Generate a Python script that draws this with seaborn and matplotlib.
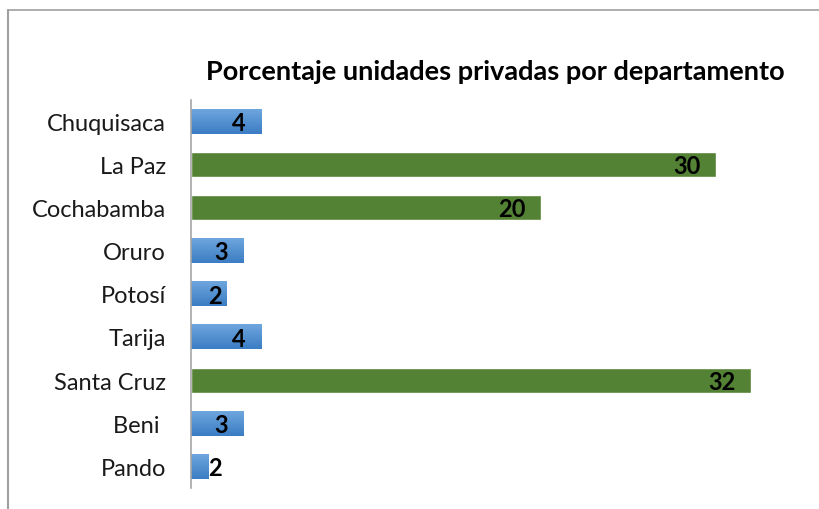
import numpy as np
import pandas as pd
import matplotlib
matplotlib.use("Agg")
import matplotlib.pyplot as plt
from matplotlib.lines import Line2D
from matplotlib.colors import LinearSegmentedColormap
import seaborn as sns

categories = ["Chuquisaca", "La Paz", "Cochabamba", "Oruro", "Potosí", "Tarija", "Santa Cruz", "Beni ", "Pando"]
values = [4, 30, 20, 3, 2, 4, 32, 3, 1]
labels = ["4", "30", "20", "3", "2", "4", "32", "3", "2"]
groups = ["small", "large", "large", "small", "small", "small", "large", "small", "small"]

sns.set_style("white")
plt.rcParams["font.family"] = ["Lato", "DejaVu Sans"]

GREEN = "#548235"
BLUE = "#5393d8"

fig = plt.figure(figsize=(8.2, 5.1), dpi=100)
ax = fig.add_axes([191/820, 1-489/510, (804-191)/820, (489-100.5)/510])

df = pd.DataFrame({"cat": categories, "val": values, "grp": groups})
sns.barplot(data=df, x="val", y="cat", hue="grp", palette={"small": BLUE, "large": GREEN},
            orient="h", width=0.58, dodge=False, legend=False, ax=ax, saturation=1)

# gradient for blue bars
grad = np.linspace(0, 1, 100).reshape(-1, 1)
cmap = LinearSegmentedColormap.from_list("b", ["#70a8df", "#3b7cc3"])
for p in list(ax.patches):
    if p.get_width() <= 0:
        continue
    fc = matplotlib.colors.to_hex(p.get_facecolor())
    if fc.lower() == BLUE:
        x0, y0 = p.get_x(), p.get_y()
        w, h = p.get_width(), p.get_height()
        im = ax.imshow(grad, extent=[x0, x0 + w, y0 + h, y0], aspect="auto", cmap=cmap,
                       origin="upper", zorder=p.get_zorder() + 0.1)
        im.set_clip_path(p)

ax.set_xlim(0, 35)
ax.set_ylim(8.5, -0.5)
ax.set_xlabel("")
ax.set_ylabel("")
ax.set_xticks([])
for s in ["top", "right", "bottom"]:
    ax.spines[s].set_visible(False)
ax.spines["left"].set_color("#a6a6a6")
ax.spines["left"].set_linewidth(1.2)
ax.tick_params(axis="y", length=0, pad=18, labelsize=17)
for t in ax.get_yticklabels():
    t.set_color("#1a1a1a")

for i, (v, lab) in enumerate(zip(values, labels)):
    xr = max(v - 0.9, 1.75)
    ax.text(xr, i + 0.03, lab, ha="right", va="center", fontsize=17, fontweight="bold",
            color="black", zorder=5)

fig.text(495/820, 1-72/510, "Porcentaje unidades privadas por departamento", ha="center", va="center",
         fontsize=19.5, fontweight="bold", color="black")

fig.add_artist(Line2D([8/820, 1], [1-11/510, 1-11/510], color="#a0a0a0", lw=1.2))
fig.add_artist(Line2D([8/820, 8/820], [0, 1-11/510], color="#a0a0a0", lw=1.5))

fig.savefig("out.png", dpi=100)
